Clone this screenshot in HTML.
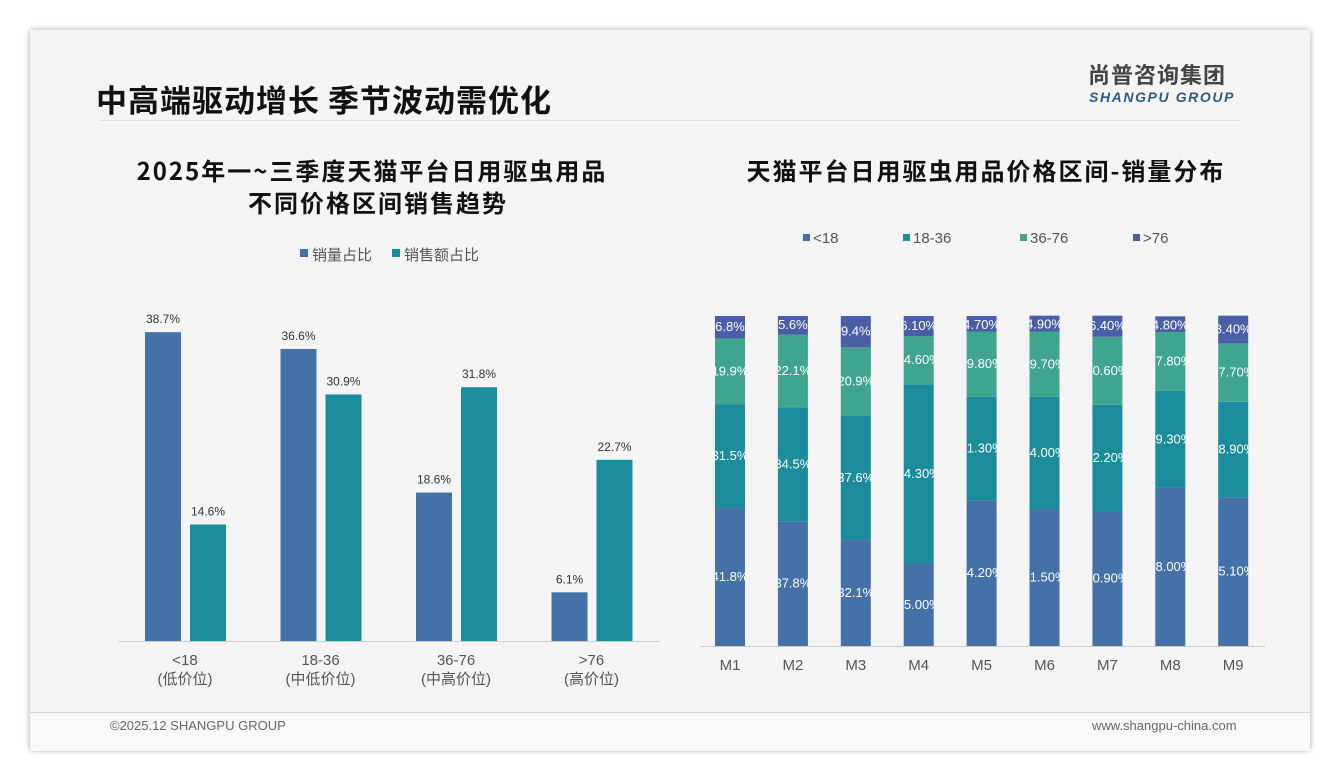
<!DOCTYPE html>
<html><head><meta charset="utf-8"><style>
body{margin:0;width:1340px;height:780px;background:#fff;font-family:"Liberation Sans","Noto Sans CJK SC",sans-serif;position:relative;overflow:hidden}
.card{position:absolute;left:30px;top:30px;width:1280px;height:720px;background:#f4f4f4;box-shadow:0 0 6px rgba(0,0,0,.35)}
.abs{position:absolute}
</style></head><body>
<div class="card"></div>
<div class="abs" style="left:96px;top:76px;font-size:31px;font-weight:bold;color:#111;font-family:'Noto Sans CJK SC',sans-serif;letter-spacing:1px">中高端驱动增长 季节波动需优化</div>
<div class="abs" style="left:1088px;top:58px;font-size:22px;font-weight:bold;color:#444;font-family:'Noto Sans CJK SC',sans-serif;letter-spacing:1px">尚普咨询集团</div>
<div class="abs" style="left:1089px;top:89px;font-size:14px;font-weight:bold;font-style:italic;color:#2e5b86;letter-spacing:1.6px">SHANGPU GROUP</div>
<div class="abs" style="left:100px;top:120px;width:1140px;height:1px;background:#ddd"></div>
<div class="abs" style="left:30px;top:712px;width:1280px;height:38px;background:#f8f8f8;border-top:1px solid #c8d4e4"></div>
<div class="abs" style="left:110px;top:718px;font-size:13px;color:#666">©2025.12 SHANGPU GROUP</div>
<div class="abs" style="left:1092px;top:718px;font-size:13px;color:#666">www.shangpu-china.com</div>
<svg class="abs" style="left:0;top:0" width="1340" height="780" id="svg" font-family="Liberation Sans, Noto Sans CJK SC, sans-serif">
<text x="372" y="180" text-anchor="middle" font-size="24" font-weight="bold" fill="#111" letter-spacing="2" font-family="Noto Sans CJK SC, sans-serif">2025年一~三季度天猫平台日用驱虫用品</text>
<text x="378" y="212" text-anchor="middle" font-size="24" font-weight="bold" fill="#111" letter-spacing="2" font-family="Noto Sans CJK SC, sans-serif">不同价格区间销售趋势</text>
<text x="986" y="180" text-anchor="middle" font-size="24" font-weight="bold" fill="#111" letter-spacing="2" font-family="Noto Sans CJK SC, sans-serif">天猫平台日用驱虫用品价格区间-销量分布</text>
<defs id="defs"></defs>
<g id="left"></g><g id="right"></g>
</svg>
<script>
const leftCats=["<18","18-36","36-76",">76"];
const leftSub=["(低价位)","(中低价位)","(中高价位)","(高价位)"];
const volShare=[38.7,36.6,18.6,6.1];
const salesShare=[14.6,30.9,31.8,22.7];
const months=["M1","M2","M3","M4","M5","M6","M7","M8","M9"];
const s18=[41.8,37.8,32.1,25.0,44.2,41.5,40.9,48.0,45.1];
const s1836=[31.5,34.5,37.6,54.3,31.3,34.0,32.2,29.3,28.9];
const s3676=[19.9,22.1,20.9,14.6,19.8,19.7,20.6,17.8,17.7];
const s76=[6.8,5.6,9.4,6.1,4.7,4.9,6.4,4.8,8.4];
const labelDecimals=[1,1,1,2,2,2,2,2,2];
const ns="http://www.w3.org/2000/svg";
function mk(p,t,a){const e=document.createElementNS(ns,t);for(const k in a)e.setAttribute(k,a[k]);p.appendChild(e);return e}
const L=document.getElementById('left'),R=document.getElementById('right'),D=document.getElementById('defs');
const base=641,yL=v=>base-v*7.98,gx=i=>145+i*135.5;
let ax=mk(L,'line',{x1:118,x2:660,y1:641.5,y2:641.5,stroke:'#ccc'});


[["销量占比","#4472a8",300],["销售额占比","#1a8c9c",392]].forEach((l,i)=>{
 const g=mk(L,'g',{});
 
 
 mk(g,'rect',{x:l[2],y:249,width:8,height:8,fill:l[1]});
 const t=mk(g,'text',{x:l[2]+12,y:260,'font-size':15,fill:'#555'});t.textContent=l[0];});
leftCats.forEach((c,i)=>{
 [[volShare,'#4472a8',0],[salesShare,'#1a8c9c',45]].forEach(s=>{
  const v=s[0][i],x=gx(i)+s[2];
  const r=mk(L,'rect',{x:x,y:yL(v),width:36,height:base-yL(v),fill:s[1]});
  
  
  const t=mk(L,'text',{x:x+18,y:yL(v)-9,'text-anchor':'middle','font-size':12,fill:'#333'});t.textContent=v.toFixed(1)+'%';
  
  
 });
 const cx=gx(i)+40;
 const t1=mk(L,'text',{x:cx,y:665,'text-anchor':'middle','font-size':15,fill:'#555'});t1.textContent=c;
 
 
 const t2=mk(L,'text',{x:cx,y:684,'text-anchor':'middle','font-size':15,fill:'#555'});t2.textContent=leftSub[i];
 
 
});
const plotTop=316,plotBot=646,yR=v=>v*(plotBot-plotTop)/100,rx=i=>730+i*62.9;
const ser=[[s18,'#4472a8'],[s1836,'#1a8c9c'],[s3676,'#3fa58e'],[s76,'#4a5ea8']];
const leg=[["<18",803],["18-36",903],["36-76",1020],[">76",1133]];
leg.forEach((l,k)=>{const g=mk(R,'g',{});
 
 
 mk(g,'rect',{x:l[1],y:234,width:7,height:7,fill:ser[k][1]});
 const t=mk(g,'text',{x:l[1]+10,y:243,'font-size':15,fill:'#555'});t.textContent=l[0];});
let ax2=mk(R,'line',{x1:700,x2:1265,y1:646.5,y2:646.5,stroke:'#ccc'});


months.forEach((m,i)=>{
 let y=plotBot;const x=rx(i)-15;
 const cp=mk(D,'clipPath',{id:'c'+i});mk(cp,'rect',{x:x,y:plotTop-20,width:30,height:360});
 ser.forEach((s,k)=>{const h=yR(s[0][i]);y-=h;
  const r=mk(R,'rect',{x:x,y:y,width:30,height:h,fill:s[1]});
  
  
  const lab=s[0][i].toFixed(labelDecimals[i])+'%';
  const t=mk(R,'text',{x:x+15,y:Math.max(y+h/2+4,y+13),'text-anchor':'middle','font-size':13,fill:'#fff','clip-path':'url(#c'+i+')'});t.textContent=lab;
  
  
 });
 const t=mk(R,'text',{x:rx(i),y:670,'text-anchor':'middle','font-size':15,fill:'#555'});t.textContent=m;
 
 
});
</script>
</body></html>
